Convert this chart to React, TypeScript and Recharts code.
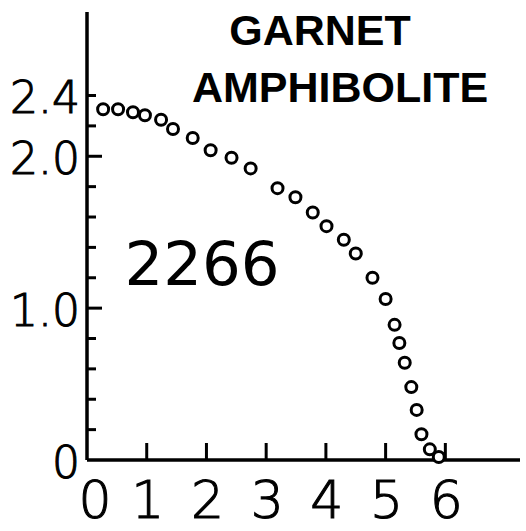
import { ScatterChart, Scatter, XAxis, YAxis } from 'recharts';

const xVals = [0.27, 0.52, 0.77, 0.97, 1.24, 1.44, 1.77, 2.07, 2.42, 2.74, 3.19, 3.49, 3.78, 4.01, 4.3, 4.5, 4.78, 5.0, 5.15, 5.23, 5.32, 5.43, 5.52, 5.6, 5.74, 5.89];
const yVals = [2.31, 2.31, 2.29, 2.27, 2.24, 2.18, 2.12, 2.04, 1.99, 1.92, 1.79, 1.73, 1.63, 1.54, 1.45, 1.36, 1.2, 1.06, 0.89, 0.77, 0.64, 0.48, 0.33, 0.17, 0.07, 0.02];

const xTicks = [0, 1, 2, 3, 4, 5, 6];
const yTicks = [0, 0.2, 0.4, 0.6, 0.8, 1.0, 1.2, 1.4, 1.6, 1.8, 2.0, 2.2, 2.4];
const yLabels: Record<string, string> = { '0': '0', '1': '1.0', '2': '2.0', '2.4': '2.4' };

const title = ['GARNET', 'AMPHIBOLITE'];
const sampleNo = '2266';

const points = xVals.map((x, i) => ({ x, y: yVals[i] }));

const thin = "'DejaVu Sans', sans-serif";

function YTick({ x, y, payload }: any) {
  const v = payload.value;
  const label = yLabels[String(v)];
  const major = v === 1 || v === 2;
  return (
    <g>
      {v !== 0 && <line x1={x} y1={y} x2={x + (major ? 15 : 9)} y2={y} stroke="#000" strokeWidth={3} />}
      {label && (
        <text x={x - 7} y={y + 2} textAnchor="end" dominantBaseline="central" fontSize={44} fontFamily={thin} fontWeight={200} fill="#000" stroke="#000" strokeWidth={1.1}>
          {label}
        </text>
      )}
    </g>
  );
}

function XTick({ x, y, payload }: any) {
  const v = payload.value;
  return (
    <g>
      {v !== 0 && <line x1={x} y1={y} x2={x} y2={y - 17} stroke="#000" strokeWidth={3} />}
      <text x={v === 0 ? x + 8 : x + 1} y={y + 40} textAnchor="middle" dominantBaseline="central" fontSize={52} fontFamily={thin} fontWeight={200} fill="#000" stroke="#000" strokeWidth={1.1}>
        {v}
      </text>
    </g>
  );
}

function Ring({ cx, cy }: any) {
  return <circle cx={cx} cy={cy} r={5.5} fill="#fff" stroke="#000" strokeWidth={3} />;
}

export default function App() {
  return (
    <div style={{ position: 'absolute', left: 0, top: 0, width: 526, height: 531, background: '#fff' }}>
      <ScatterChart width={526} height={531} margin={{ top: 12, right: 6, bottom: 41, left: 27 }}>
        <XAxis
          type="number"
          dataKey="x"
          domain={[0, 7.25]}
          ticks={xTicks}
          height={30}
          tickSize={0}
          tickMargin={0}
          tickLine={false}
          axisLine={{ stroke: '#000', strokeWidth: 3.5 }}
          tick={<XTick />}
          interval={0}
        />
        <YAxis
          type="number"
          dataKey="y"
          domain={[0, 2.95]}
          ticks={yTicks}
          width={60}
          tickSize={0}
          tickMargin={0}
          tickLine={false}
          axisLine={{ stroke: '#000', strokeWidth: 3.5 }}
          tick={<YTick />}
          interval={0}
        />
        <Scatter data={points} shape={<Ring />} isAnimationActive={false} />
      </ScatterChart>
      <svg width={526} height={531} style={{ position: 'absolute', left: 0, top: 0, pointerEvents: 'none' }}>
        <g fontFamily="'Liberation Sans', Arial, sans-serif" fontSize={43} fontWeight="bold" fill="#000" textAnchor="middle">
          <text x={320} y={45}>{title[0]}</text>
          <text x={340} y={102}>{title[1]}</text>
        </g>
        <text x={202} y={285} textAnchor="middle" fontFamily={thin} fontSize={61} fill="#000">
          {sampleNo}
        </text>
      </svg>
    </div>
  );
}
